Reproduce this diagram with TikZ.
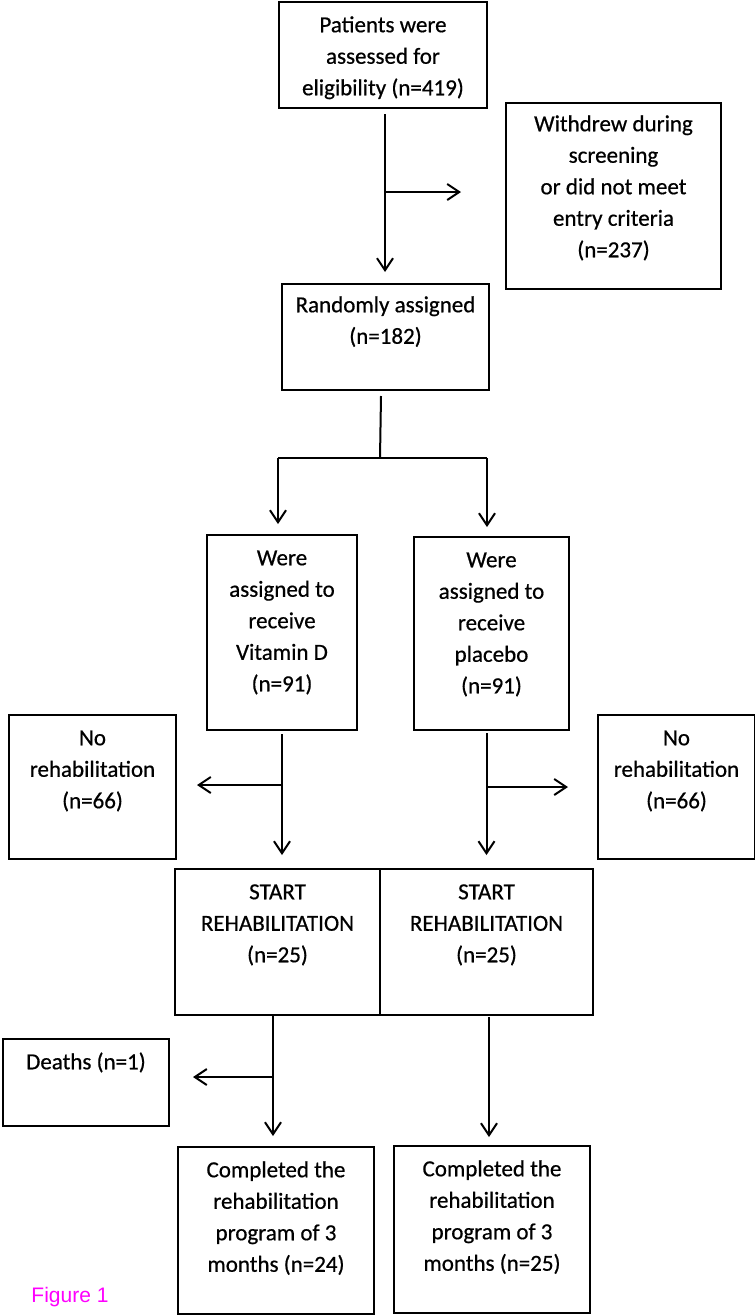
\documentclass[tikz,border=0pt]{standalone}
\usepackage{fontspec}
\setmainfont{Carlito}[FakeBold=0.6,AutoFakeBold=0.6]
\newfontfamily\figfont{Liberation Sans}
\usetikzlibrary{arrows.meta}
\definecolor{figmag}{RGB}{255,0,255}
\begin{document}
\begin{tikzpicture}[x=1pt,y=-1pt,
  box/.style={draw, line width=2pt, inner sep=0pt, anchor=north west},
  txt/.style={align=center, inner sep=0pt, anchor=north, font=\fontsize{23}{31.5}\selectfont\bfseries},
  ln/.style={line width=2pt},
  arr/.style={line width=2pt, -{Straight Barb[length=12pt,width=16pt]}}]
\useasboundingbox (0,0) rectangle (755,1315);

% boxes
\node[box, minimum width=208pt, minimum height=106pt] (top) at (278,1) {};
\node[box, minimum width=215pt, minimum height=186pt] (wd) at (505,102) {};
\node[box, minimum width=207pt, minimum height=106pt] (rnd) at (281,283) {};
\node[box, minimum width=150pt, minimum height=195pt] (vit) at (206,534) {};
\node[box, minimum width=155pt, minimum height=193pt] (plc) at (413,536) {};
\node[box, minimum width=167pt, minimum height=144pt] (nrl) at (8,714) {};
\node[box, minimum width=157pt, minimum height=144pt] (nrr) at (597,714) {};
\node[box, minimum width=205pt, minimum height=146pt] (stl) at (174,868) {};
\node[box, minimum width=213pt, minimum height=146pt] (str) at (379,868) {};
\node[box, minimum width=166pt, minimum height=87pt] (dth) at (2,1038) {};
\node[box, minimum width=196pt, minimum height=167pt] (cpl) at (177,1146) {};
\node[box, minimum width=196pt, minimum height=167pt] (cpr) at (393,1145) {};

% texts
\node[txt] (top-t) at ([yshift=-9pt]top.north) {\strut Patients were\\assessed for\\eligibility (n=419)};
\node[txt] (wd-t) at ([yshift=-7pt]wd.north) {\strut Withdrew during\\screening\\or did not meet\\entry criteria\\(n=237)};
\node[txt] (rnd-t) at ([yshift=-7pt]rnd.north) {\strut Randomly assigned\\(n=182)};
\node[txt] (vit-t) at ([yshift=-9pt]vit.north) {\strut Were\\assigned to\\receive\\Vitamin D\\(n=91)};
\node[txt] (plc-t) at ([yshift=-9pt]plc.north) {\strut Were\\assigned to\\receive\\placebo\\(n=91)};
\node[txt] (nrl-t) at ([yshift=-9pt]nrl.north) {\strut No\\rehabilitation\\(n=66)};
\node[txt] (nrr-t) at ([yshift=-9pt]nrr.north) {\strut No\\rehabilitation\\(n=66)};
\node[txt] (stl-t) at ([yshift=-9pt]stl.north) {\strut START\\REHABILITATION\\(n=25)};
\node[txt] (str-t) at ([yshift=-9pt]str.north) {\strut START\\REHABILITATION\\(n=25)};
\node[txt] (dth-t) at ([yshift=-9pt]dth.north) {\strut Deaths (n=1)};
\node[txt] (cpl-t) at ([yshift=-9pt]cpl.north) {\strut Completed the\\rehabilitation\\program of 3\\months (n=24)};
\node[txt] (cpr-t) at ([yshift=-9pt]cpr.north) {\strut Completed the\\rehabilitation\\program of 3\\months (n=25)};

\node[font=\figfont\fontsize{21}{24}\selectfont, text=figmag, inner sep=0pt] (fig) at (70,1297) {Figure 1};

% connectors
\coordinate (j1) at (384,192);
\draw[arr] ([xshift=2pt,yshift=-5pt]top.south) -- ([xshift=2pt,yshift=11pt]top.south |- rnd.north);
\draw[arr] (j1) -- ([xshift=-44pt]j1 -| wd.west);

\coordinate (j2) at (380,458);
\coordinate (jL) at (278,458);
\coordinate (jR) at (487,458);
\draw[ln] ([xshift=-4.5pt,yshift=-5pt]rnd.south) -- (j2);
\draw[ln] (jL) -- (jR);
\draw[arr] (jL) -- ([yshift=10pt]jL |- vit.north);
\draw[arr] (jR) -- ([yshift=9pt]jR |- plc.north);

\coordinate (j3) at (281,785);
\draw[arr] ([yshift=-3pt]vit.south) -- ([yshift=13pt]vit.south |- stl.north);
\draw[arr] (j3) -- ([xshift=20pt]j3 -| nrl.east);

\coordinate (j4) at (486,787);
\draw[arr] ([xshift=-5pt,yshift=-2pt]plc.south) -- ([xshift=-5pt,yshift=13pt]plc.south |- str.north);
\draw[arr] (j4) -- ([xshift=-29pt]j4 -| nrr.west);

\coordinate (s1) at (273,1014);
\coordinate (j5) at (273,1077);
\draw[arr] (s1) -- ([yshift=10pt]s1 |- cpl.north);
\draw[arr] (j5) -- ([xshift=23pt]j5 -| dth.east);

\coordinate (s2) at (489,1017);
\draw[arr] (s2) -- ([yshift=8pt]s2 |- cpr.north);
\end{tikzpicture}
\end{document}
